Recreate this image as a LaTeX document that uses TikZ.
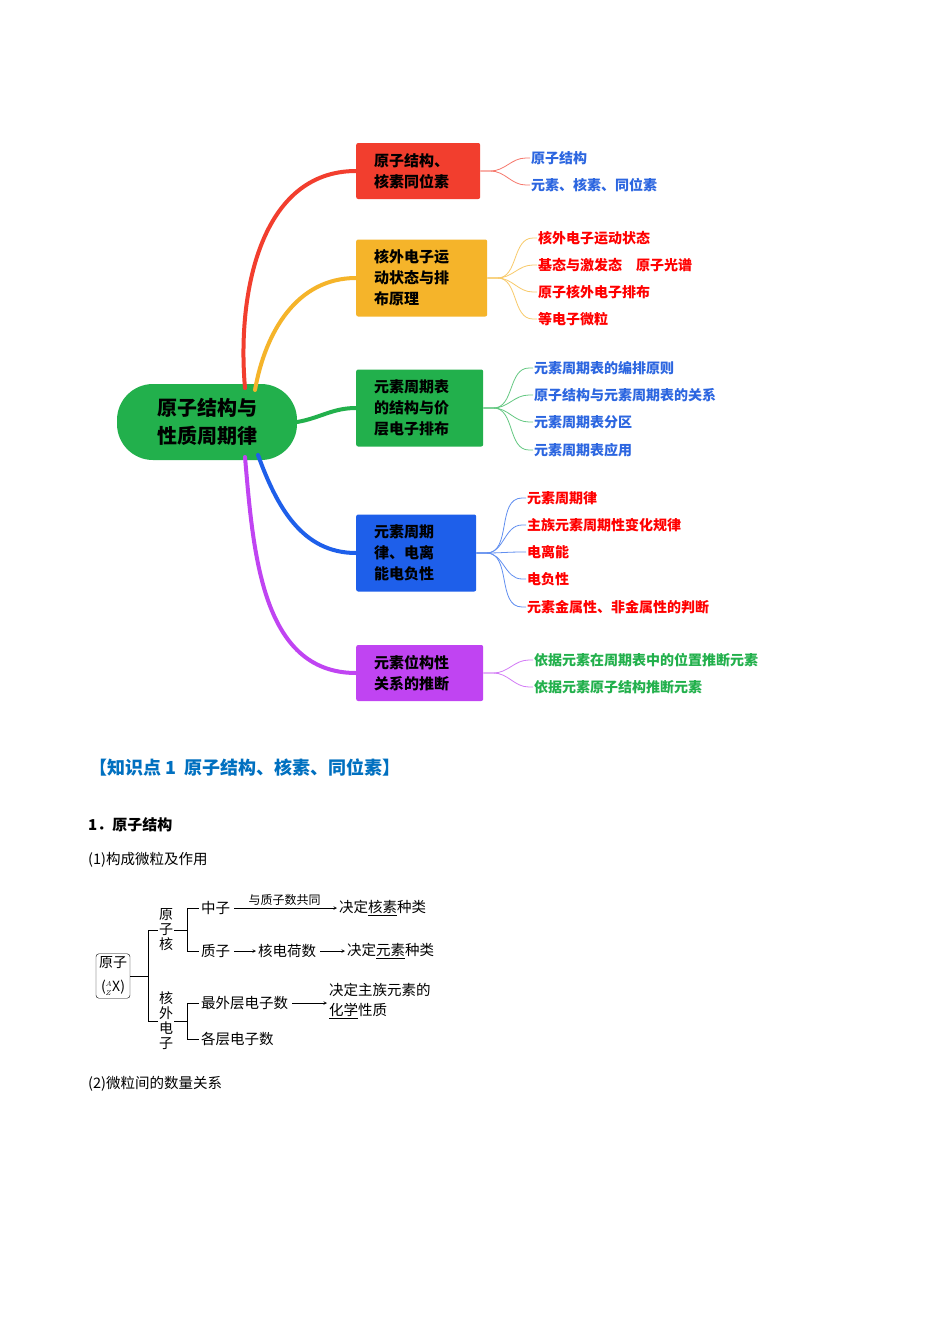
\documentclass[tikz,border=0pt]{standalone}
\usepackage{fontspec}
\setmainfont{Noto Sans CJK SC}
\usepackage{tikz}
\usetikzlibrary{positioning}
\definecolor{cRed}{HTML}{F23E2E}
\definecolor{cOrange}{HTML}{F5B42A}
\definecolor{cGreen}{HTML}{22B04C}
\definecolor{cBlue}{HTML}{1E5FEA}
\definecolor{cPurple}{HTML}{C044F2}
\definecolor{cText}{HTML}{2C66E0}
\definecolor{cHead}{HTML}{0070C0}
\begin{document}
\begin{tikzpicture}[x=1pt,y=-1pt,
    topicnode/.style={rectangle, rounded corners=2pt, minimum height=56pt, inner xsep=18pt, align=left, anchor=west, font=\fontsize{15}{21}\selectfont\bfseries},
    leafnode/.style={anchor=west, inner sep=1pt, font=\fontsize{14}{16}\selectfont\bfseries},
    textnode/.style={anchor=west, inner sep=2pt, font=\fontsize{14.5}{18}\selectfont},
    vertnode/.style={align=center, inner sep=1pt, font=\fontsize{14}{15}\selectfont},
    mainline/.style={line width=4pt, line cap=round},
    leafline/.style={line width=0.8pt},
    arr/.style={->, >=stealth, semithick, shorten <=2pt},
  ]
  \fill[white] (0,0) rectangle (950,1344);
  % Nodes
  \node[fill=cGreen, rounded corners=36pt, minimum width=180pt, minimum height=76pt, align=left, font=\fontsize{20}{28}\selectfont\bfseries] (center) at (207,422) {原子结构与\\性质周期律};

  \node[topicnode, fill=cRed, text width=88pt]    (t_one)   at (356,171) {原子结构、\\核素同位素};
  \node[topicnode, fill=cOrange, text width=95pt, minimum height=77pt] (t_two)   at (356,278) {核外电子运\\动状态与排\\布原理};
  \node[topicnode, fill=cGreen, text width=91pt, minimum height=77pt]  (t_three) at (356,408) {元素周期表\\的结构与价\\层电子排布};
  \node[topicnode, fill=cBlue, text width=84pt, minimum height=77pt]   (t_four)  at (356,553) {元素周期\\律、电离\\能电负性};
  \node[topicnode, fill=cPurple, text width=91pt] (t_five)  at (356,673) {元素位构性\\关系的推断};

  \node[leafnode, text=cText] (l_one_a) at (530,158) {原子结构};
  \node[leafnode, text=cText] (l_one_b) at (530,185) {元素、核素、同位素};

  \node[leafnode, text=red] (l_two_a) at (537,238) {核外电子运动状态};
  \node[leafnode, text=red] (l_two_b) at (537,265) {基态与激发态\quad 原子光谱};
  \node[leafnode, text=red] (l_two_c) at (537,292) {原子核外电子排布};
  \node[leafnode, text=red] (l_two_d) at (537,319) {等电子微粒};

  \node[leafnode, text=cText] (l_three_a) at (533,368) {元素周期表的编排原则};
  \node[leafnode, text=cText] (l_three_b) at (533,395) {原子结构与元素周期表的关系};
  \node[leafnode, text=cText] (l_three_c) at (533,422) {元素周期表分区};
  \node[leafnode, text=cText] (l_three_d) at (533,450) {元素周期表应用};

  \node[leafnode, text=red] (l_four_a) at (526,498) {元素周期律};
  \node[leafnode, text=red] (l_four_b) at (526,525) {主族元素周期性变化规律};
  \node[leafnode, text=red] (l_four_c) at (526,552) {电离能};
  \node[leafnode, text=red] (l_four_d) at (526,579) {电负性};
  \node[leafnode, text=red] (l_four_e) at (526,607) {元素金属性、非金属性的判断};

  \node[leafnode, text=cGreen] (l_five_a) at (533,660) {依据元素在周期表中的位置推断元素};
  \node[leafnode, text=cGreen] (l_five_b) at (533,687) {依据元素原子结构推断元素};

  % Text
  \node[anchor=west, text=cHead, font=\fontsize{18}{22}\selectfont\bfseries] (heading) at (86,767) {【知识点 1\ \ 原子结构、核素、同位素】};
  \node[textnode, font=\fontsize{15}{18}\selectfont\bfseries] (sec_one) at (86,825) {1．原子结构};
  \node[textnode] (sub_one) at (86,860) {(1)构成微粒及作用};
  \node[textnode] (sub_two) at (86,1084) {(2)微粒间的数量关系};

  % Structure
  \node[draw, rounded corners=3pt, align=center, inner sep=3pt, font=\fontsize{14}{24}\selectfont] (atom) at (113,976) {原子\\(${}^{\scriptscriptstyle A}_{\scriptscriptstyle Z}$X)};
  \node[vertnode] (nucleus) at (166,930) {原\\子\\核};
  \node[vertnode] (shell) at (166,1021) {核\\外\\电\\子};
  \node[textnode] (neutron) at (199,908) {中子};
  \node[textnode] (proton) at (199,951) {质子};
  \node[textnode] (outer) at (199,1003) {最外层电子数};
  \node[textnode] (layers) at (199,1039) {各层电子数};
  \node[textnode] (nuclide) at (337,908) {决定\underline{核素}种类};
  \node[textnode] (charge) at (256,951) {核电荷数};
  \node[textnode] (element) at (345,951) {决定\underline{元素}种类};
  \node[textnode, align=left, font=\fontsize{14.5}{20}\selectfont] (chem) at (327,1001) {决定主族元素的\\\underline{化学}性质};

  \coordinate (br_a) at (148,976);
  \coordinate (br_b) at (187,930);
  \coordinate (br_c) at (187,1021);

  %Lines
  \draw[mainline, cRed]    (245,388) to[out=95,in=180] (t_one.west);
  \draw[mainline, cOrange] (255,390) to[out=80,in=180] (t_two.west);
  \draw[mainline, cGreen]  (center.east) to[out=10,in=180] (t_three.west);
  \draw[mainline, cBlue]   (258,455) to[out=-70,in=180] (t_four.west);
  \draw[mainline, cPurple] (245,457) to[out=-85,in=180] (t_five.west);

  \foreach \t/\c/\l in {t_one/cRed/{l_one_a,l_one_b},
      t_two/cOrange/{l_two_a,l_two_b,l_two_c,l_two_d},
      t_three/cGreen/{l_three_a,l_three_b,l_three_c,l_three_d},
      t_four/cBlue/{l_four_a,l_four_b,l_four_c,l_four_d,l_four_e},
      t_five/cPurple/{l_five_a,l_five_b}} {
    \foreach \x in \l {
      \draw[leafline, \c!70] (\t.east) -- ++(10,0) to[out=0,in=180] ([xshift=-4pt]\x.west) -- (\x.west);
    }
  }

  \draw (atom.east) -- (br_a);
  \draw (br_a |- nucleus) -- (br_a |- shell);
  \draw (br_a |- nucleus) -- (nucleus.west);
  \draw (br_a |- shell) -- (shell.west);
  \draw (nucleus.east) -- (br_b);
  \draw (br_b |- neutron) -- (br_b |- proton);
  \draw (br_b |- neutron) -- (neutron.west);
  \draw (br_b |- proton) -- (proton.west);
  \draw (shell.east) -- (br_c);
  \draw (br_c |- outer) -- (br_c |- layers);
  \draw (br_c |- outer) -- (outer.west);
  \draw (br_c |- layers) -- (layers.west);

  \draw[arr] (neutron.east) -- node[above, inner sep=2pt, font=\fontsize{12}{14}\selectfont] {与质子数共同} (nuclide.west);
  \draw[arr] (proton.east) -- (charge.west);
  \draw[arr] (charge.east) -- (element.west);
  \draw[arr] (outer.east) -- (outer.east -| chem.west);
\end{tikzpicture}
\end{document}
